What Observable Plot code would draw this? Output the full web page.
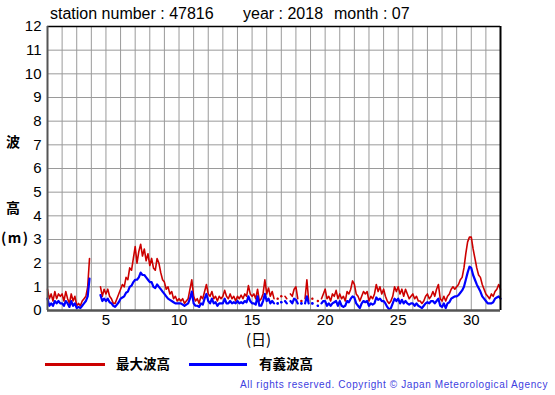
<!DOCTYPE html>
<html>
<head>
<meta charset="utf-8">
<script src="https://cdn.jsdelivr.net/npm/d3@7"></script>
<script src="https://cdn.jsdelivr.net/npm/@observablehq/plot@0.6"></script>
<style>
  html, body { margin: 0; padding: 0; background: #fff; }
  #wrap { position: relative; width: 555px; height: 395px; overflow: hidden; }
  .t { position: absolute; white-space: nowrap; line-height: 1; }
  .title { font-family: "Liberation Sans", Arial, sans-serif; font-size: 16px; color: #000; }
  .cjk { font-family: "Noto Sans CJK JP", sans-serif; color: #000; }
  .leg { position: absolute; height: 3px; }
  #copy { font-family: "Liberation Sans", Arial, sans-serif; font-size: 10px; color: #4040e0; }
</style>
</head>
<body>
<div id="wrap"></div>
<script>
// ---- chart texts ----
const stationLabel = "station number : 47816";
const yearLabel = "year : 2018";
const monthLabel = "month : 07";
const yLabelChars = ["波", "高", "(m)"];
const xLabel = "(日)";
const seriesNames = ["最大波高", "有義波高"];
const seriesColors = ["#cc0000", "#0000ff"];
const copyright = "All rights reserved. Copyright © Japan Meteorological Agency";

// ---- axes ----
const xTicks = [5, 10, 15, 20, 25, 30];
const yTicks = [0, 1, 2, 3, 4, 5, 6, 7, 8, 9, 10, 11, 12];
const stepsPerDay = 8; // 3-hourly readings, day 1 00h .. day 31 24h

// ---- maximum wave height (m), 3-hourly, null = missing ----
const maxWave = [
  0.9, 0.5, 0.7, 0.4, 0.8, 0.5, 0.7, 0.6,      // 1
  0.7, 0.4, 0.8, 0.5, 0.3, 0.7, 0.4, 0.6,      // 2
  0.2, 0.3, 0.2, 0.4, 0.5, 0.6, 1.0, 2.2,      // 3
  null, null, null, null, null, 1.0, 0.6, 0.9, // 4
  0.7, 0.9, 0.6, 0.5, 0.3, 0.3, 0.5, 0.7,      // 5
  0.9, 1.1, 1.0, 1.4, 1.3, 1.8, 1.7, 2.2,      // 6
  2.7, 2.0, 2.5, 2.8, 2.3, 2.6, 2.1, 2.4,      // 7
  1.9, 2.2, 1.8, 1.7, 2.2, 2.0, 1.6, 1.3,      // 8
  1.2, 0.9, 1.0, 0.7, 0.8, 0.5, 0.6, 0.4,      // 9
  0.5, 0.4, 0.5, 0.3, 0.4, 0.5, 0.9, 1.3,      // 10
  0.6, 0.4, 0.5, 0.3, 0.6, 0.5, 0.8, 1.1,      // 11
  0.7, 0.6, 0.8, 0.5, 0.6, 0.4, 0.6, 0.5,      // 12
  0.6, 0.85, 0.6, 0.5, 0.7, 0.5, 0.6, 0.4,     // 13
  0.6, 0.5, 0.65, 0.5, 0.7, 0.6, 1.05, 0.7,    // 14
  0.6, 0.7, 0.5, 0.9, 0.4, 0.5, 0.7, 1.3,      // 15
  0.7, 0.95, 0.6, 0.8, 0.5, null, 0.5, null,   // 16
  0.6, null, 0.6, 0.5, null, 0.7, 0.6, 0.9,    // 17
  1.0, 0.5, null, 0.4, null, 0.5, 1.3, 0.4,    // 18
  null, 0.5, null, null, 0.4, null, 0.5, 0.7,  // 19
  0.9, 0.5, 0.6, 0.4, 0.7, 0.6, 0.85, 0.5,     // 20
  0.7, 0.5, 0.6, 0.4, 0.8, 0.7, 0.9, 1.25,     // 21
  1.1, 0.7, 0.6, 0.4, 0.6, 0.8, 0.7, 0.8,      // 22
  0.4, 0.6, 0.5, 0.7, 1.1, 0.8, 1.0, 0.7,      // 23
  0.9, 0.6, 0.4, 0.3, 0.4, 0.6, 1.0, 0.8,      // 24
  1.0, 0.7, 0.9, 0.6, 0.9, 0.7, 0.5, 0.6,      // 25
  0.7, 0.5, 0.6, 0.4, 0.4, 0.3, 0.4, 0.6,      // 26
  0.7, 0.5, 0.6, 0.8, 0.6, 0.9, 1.1, 0.5,      // 27
  0.4, 0.6, 0.4, 0.6, 0.7, 0.9, 1.0, 0.9,      // 28
  1.0, 1.1, 1.3, 1.4, 1.8, 2.4, 2.9, 3.1,      // 29
  3.1, 2.6, 2.2, 1.8, 1.5, 1.4, 1.1, 0.9,      // 30
  0.7, 0.6, 0.5, 0.7, 0.6, 0.8, 0.9, 1.1,      // 31
  0.9                                          // end
];

// ---- significant wave height (m), 3-hourly, null = missing ----
const sigWave = [
  0.5, 0.2, 0.3, 0.2, 0.4, 0.3, 0.4, 0.3,      // 1
  0.3, 0.2, 0.4, 0.3, 0.15, 0.4, 0.2, 0.3,     // 2
  0.1, 0.15, 0.1, 0.2, 0.3, 0.4, 0.6, 1.35,    // 3
  null, null, null, null, null, 0.65, 0.4, 0.5,// 4
  0.4, 0.5, 0.35, 0.3, 0.2, 0.15, 0.25, 0.35,  // 5
  0.5, 0.55, 0.6, 0.75, 0.8, 1.0, 1.05, 1.2,   // 6
  1.3, 1.3, 1.4, 1.6, 1.5, 1.5, 1.4, 1.3,      // 7
  1.2, 1.2, 1.0, 0.95, 1.1, 1.0, 0.9, 0.8,     // 8
  0.7, 0.6, 0.5, 0.45, 0.4, 0.35, 0.3, 0.3,    // 9
  0.3, 0.3, 0.25, 0.2, 0.25, 0.3, 0.5, 0.8,    // 10
  0.3, 0.2, 0.2, 0.15, 0.3, 0.25, 0.5, 0.7,    // 11
  0.4, 0.3, 0.5, 0.3, 0.35, 0.2, 0.3, 0.3,     // 12
  0.3, 0.5, 0.3, 0.3, 0.4, 0.3, 0.35, 0.3,     // 13
  0.4, 0.3, 0.35, 0.3, 0.4, 0.35, 0.6, 0.4,    // 14
  0.3, 0.3, 0.25, 0.6, 0.2, 0.2, 0.4, 0.7,     // 15
  0.4, 0.5, 0.3, 0.4, 0.3, null, 0.3, null,    // 16
  0.35, null, 0.4, 0.3, null, 0.4, 0.3, 0.5,   // 17
  0.45, 0.3, null, 0.3, null, 0.3, 0.6, 0.3,   // 18
  null, 0.3, null, null, 0.2, null, 0.3, 0.4,  // 19
  0.4, 0.2, 0.3, 0.2, 0.3, 0.35, 0.4, 0.2,     // 20
  0.4, 0.2, 0.15, 0.2, 0.4, 0.35, 0.5, 0.6,    // 21
  0.55, 0.3, 0.2, 0.1, 0.3, 0.4, 0.35, 0.4,    // 22
  0.2, 0.3, 0.25, 0.3, 0.55, 0.45, 0.5, 0.4,   // 23
  0.4, 0.3, 0.15, 0.05, 0.1, 0.3, 0.5, 0.4,    // 24
  0.5, 0.3, 0.45, 0.3, 0.4, 0.3, 0.25, 0.3,    // 25
  0.3, 0.2, 0.3, 0.2, 0.15, 0.1, 0.2, 0.3,     // 26
  0.35, 0.3, 0.4, 0.4, 0.3, 0.4, 0.5, 0.2,     // 27
  0.15, 0.3, 0.1, 0.3, 0.35, 0.5, 0.55, 0.6,   // 28
  0.6, 0.65, 0.75, 0.85, 1.0, 1.3, 1.6, 1.85,  // 29
  1.8, 1.5, 1.3, 1.1, 0.95, 0.8, 0.6, 0.5,     // 30
  0.4, 0.3, 0.3, 0.3, 0.35, 0.5, 0.55, 0.6,    // 31
  0.5                                          // end
];

// ---- build table ----
const rows = maxWave.map((m, i) => ({day: 1 + i / stepsPerDay, max: m, sig: sigWave[i]}));
const isolated = key => rows.filter((r, i) =>
  r[key] != null &&
  (i === 0 || rows[i - 1][key] == null) &&
  (i === rows.length - 1 || rows[i + 1][key] == null));

const chart = Plot.plot({
  width: 555,
  height: 345,
  marginTop: 26,
  marginBottom: 35,
  marginLeft: 47,
  marginRight: 55,
  x: {domain: [1, 32]},
  y: {domain: [0, 12]},
  style: {fontFamily: "'Liberation Sans', Arial, sans-serif", fontSize: "15px", color: "#000", background: "#fff", overflow: "visible"},
  marks: [
    Plot.ruleX(d3.range(2, 32), {stroke: "#9a9a9a", strokeWidth: 1}),
    Plot.ruleY(d3.range(1, 12), {stroke: "#9a9a9a", strokeWidth: 1}),
    Plot.lineY(rows, {x: "day", y: "max", stroke: seriesColors[0], strokeWidth: 1.6}),
    Plot.dot(isolated("max"), {x: "day", y: "max", r: 1.2, fill: seriesColors[0]}),
    Plot.lineY(rows, {x: "day", y: "sig", stroke: seriesColors[1], strokeWidth: 2.2}),
    Plot.dot(isolated("sig"), {x: "day", y: "sig", r: 1.3, fill: seriesColors[1]}),
    Plot.ruleY([12], {stroke: "#000", strokeWidth: 1.5}),
    Plot.ruleX([32], {stroke: "#000", strokeWidth: 2}),
    Plot.ruleX([1], {stroke: "#555", strokeWidth: 2}),
    Plot.ruleY([0], {stroke: "#555", strokeWidth: 2.5}),
    Plot.axisX({ticks: xTicks, tickSize: 0, tickPadding: 4, label: null}),
    Plot.axisY({ticks: yTicks, tickSize: 0, tickPadding: 6, label: null})
  ]
});

const wrap = document.getElementById("wrap");
wrap.appendChild(chart);

function addText(txt, cls, left, top, extraStyle) {
  const el = document.createElement("div");
  el.className = "t " + cls;
  el.textContent = txt;
  el.style.left = left + "px";
  el.style.top = top + "px";
  if (extraStyle) Object.assign(el.style, extraStyle);
  wrap.appendChild(el);
  return el;
}

// title
addText(stationLabel, "title", 50, 6);
addText(yearLabel, "title", 243, 6);
addText(monthLabel, "title", 334, 6);

// y label
addText(yLabelChars[0], "cjk", 6, 134, {fontSize: "14px", fontWeight: "bold"});
addText(yLabelChars[1], "cjk", 6, 200, {fontSize: "14px", fontWeight: "bold"});
addText(yLabelChars[2], "cjk", 1, 230, {fontSize: "14px", fontWeight: "bold", letterSpacing: "1.5px"});

// x label
addText(xLabel, "cjk", 246, 331, {fontSize: "15px"});

// legend
function addLine(color, left, width) {
  const l = document.createElement("div");
  l.className = "leg";
  l.style.background = color;
  l.style.left = left + "px";
  l.style.top = "363px";
  l.style.width = width + "px";
  wrap.appendChild(l);
}
addLine(seriesColors[0], 45, 60);
addText(seriesNames[0], "cjk", 116, 357, {fontSize: "13.5px", fontWeight: "bold"});
addLine(seriesColors[1], 189, 58);
addText(seriesNames[1], "cjk", 259, 357, {fontSize: "13.5px", fontWeight: "bold"});

// copyright, stretched to the reference width
const cp = addText(copyright, "", 240, 380);
cp.id = "copy";
const natural = cp.getBoundingClientRect().width;
cp.style.letterSpacing = ((308 - natural) / copyright.length) + "px";
</script>
</body>
</html>
